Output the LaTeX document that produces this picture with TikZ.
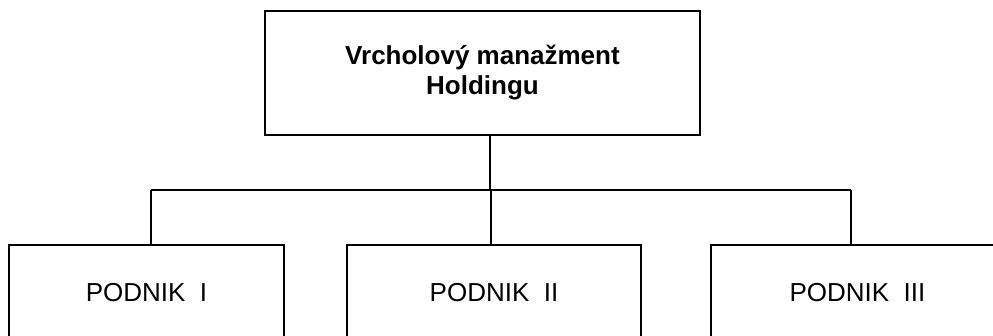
\documentclass[tikz,border=0pt]{standalone}
\usepackage{fontspec}
\setmainfont{Liberation Sans}
\begin{document}
\begin{tikzpicture}[x=1pt, y=-1pt, line width=1.6pt,
    unitbox/.style={draw, minimum width=292pt, minimum height=96pt, inner sep=0pt,
      font=\fontsize{26}{30}\selectfont}]
    \useasboundingbox (0,0) rectangle (993,336);

    % top management
    \node[draw, minimum width=435pt, minimum height=124pt, align=center, inner sep=0pt,
      font=\bfseries\fontsize{26}{30}\selectfont] (top) at (482.5,73) {Vrcholový manažment\\Holdingu};

    % subsidiaries
    \node[unitbox, minimum width=275pt] (p1) at (146.5,293) {PODNIK\ \ I};
    \node[unitbox, minimum width=294pt] (p2) at (494,293) {PODNIK\ \ II};
    \node[unitbox, minimum width=293pt] (p3) at (857.5,293) {PODNIK\ \ III};

    % connectors
    \coordinate (bus) at (490,190);
    \coordinate (b1) at (151,190);
    \coordinate (b2) at (491,190);
    \coordinate (b3) at (851,190);
    \draw (top.south -| bus) -- (bus);
    \draw (b1) -- (b3);
    \foreach \i in {1,2,3} {
      \draw (b\i) -- (b\i |- p\i.north);
    }
  \end{tikzpicture}
\end{document}
